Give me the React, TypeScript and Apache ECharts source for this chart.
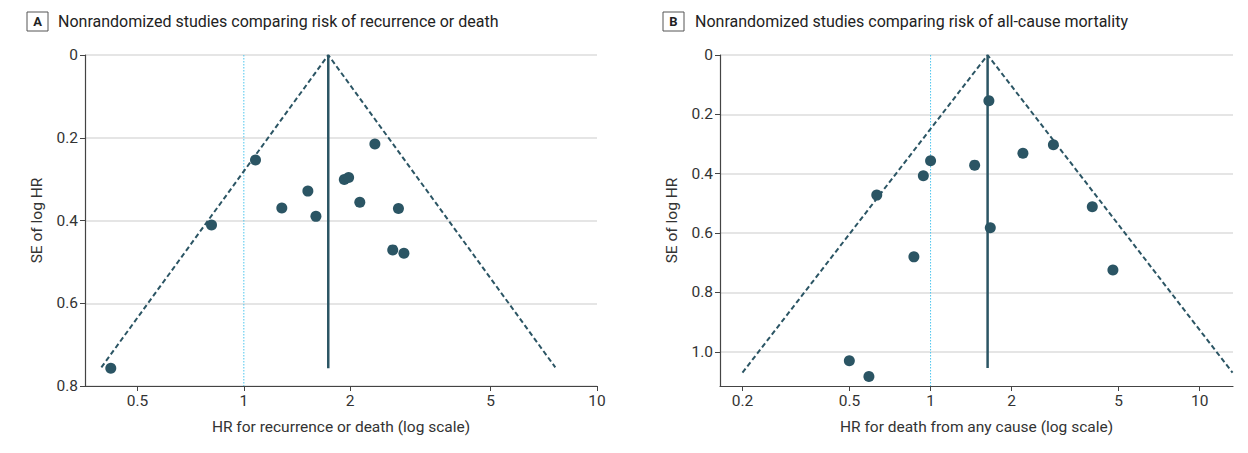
import React, { useEffect, useRef } from "react";
import * as echarts from "echarts";

// Panel A: recurrence or death
const hrA = [1.079, 0.81, 0.42, 1.281, 1.518, 1.6, 2.35, 1.925, 1.98, 2.13, 2.74, 2.64, 2.84];
const seA = [0.254, 0.411, 0.757, 0.37, 0.329, 0.39, 0.215, 0.301, 0.296, 0.356, 0.371, 0.471, 0.479];
const funnelA = [[0.395, 0.755], [1.734, 0], [7.62, 0.755]];
const pooledA = [[1.734, 0], [1.734, 0.757]];

// Panel B: all-cause mortality
const hrB = [0.631, 1.0, 0.94, 0.867, 0.499, 0.59, 1.647, 1.458, 2.204, 2.86, 1.667, 3.99, 4.76];
const seB = [0.472, 0.356, 0.407, 0.68, 1.03, 1.083, 0.154, 0.371, 0.331, 0.302, 0.582, 0.511, 0.724];
const funnelB = [[0.2, 1.07], [1.629, 0], [13.25, 1.07]];
const pooledB = [[1.629, 0], [1.629, 1.054]];

const xTicksA = [0.5, 1, 2, 5, 10];
const xTicksB = [0.2, 0.5, 1, 2, 5, 10];
const yTicksA = [0, 0.2, 0.4, 0.6, 0.8];
const yTicksB = [0, 0.2, 0.4, 0.6, 0.8, 1.0];

const titleA = "Nonrandomized studies comparing risk of recurrence or death";
const titleB = "Nonrandomized studies comparing risk of all-cause mortality";
const xNameA = "HR for recurrence or death (log scale)";
const xNameB = "HR for death from any cause (log scale)";
const yName = "SE of log HR";

const FONT = "Roboto";
const DARK = "#2b5564";
const TEXT = "#333333";
const FS = 15.5;

const lg = (v: number) => Math.log10(v);
const fmtHR = (v: number) => String(parseFloat(Math.pow(10, v).toPrecision(3)));
const fmtSE = (v: number) => (Math.abs(v) < 1e-9 ? "0" : v.toFixed(1));

function xAxis(gridIndex: number, min: number, max: number, ticks: number[], name: string) {
  const cv = ticks.map(lg);
  return {
    type: "value",
    gridIndex,
    min: lg(min),
    max: lg(max),
    name,
    nameLocation: "middle",
    nameGap: 33,
    nameTextStyle: { fontFamily: FONT, fontSize: FS, color: TEXT },
    axisLine: { onZero: false, lineStyle: { color: "#444", width: 1.2 } },
    axisTick: { show: true, customValues: cv, length: 5, lineStyle: { color: "#444" } },
    axisLabel: {
      customValues: cv,
      formatter: (v: number) => fmtHR(v),
      fontFamily: FONT,
      fontSize: FS,
      color: TEXT,
      margin: 7,
    },
    splitLine: { show: false },
  };
}

function yAxis(gridIndex: number, max: number, ticks: number[]) {
  return {
    type: "value",
    gridIndex,
    inverse: true,
    min: 0,
    max,
    interval: 0.2,
    name: yName,
    nameLocation: "middle",
    nameGap: 40,
    nameTextStyle: { fontFamily: FONT, fontSize: FS, color: TEXT },
    axisLine: { show: true, onZero: false, lineStyle: { color: "#444", width: 1.2 } },
    axisTick: { show: true, customValues: ticks, length: 5, lineStyle: { color: "#444" } },
    axisLabel: {
      customValues: ticks,
      formatter: (v: number) => fmtSE(v),
      fontFamily: FONT,
      fontSize: FS,
      color: TEXT,
      margin: 7,
    },
    splitLine: { show: true, lineStyle: { color: "#dddddd", width: 1.5 } },
  };
}

function panelSeries(
  idx: number,
  hr: number[],
  se: number[],
  funnel: number[][],
  pooled: number[][],
  yMax: number
) {
  return [
    {
      type: "line",
      xAxisIndex: idx,
      yAxisIndex: idx,
      data: [[lg(1), 0], [lg(1), yMax]],
      symbol: "none",
      lineStyle: { color: "#4cc5ee", width: 1, type: [1.5, 1.5] },
      z: 1,
      silent: true,
    },
    {
      type: "line",
      xAxisIndex: idx,
      yAxisIndex: idx,
      data: funnel.map((p) => [lg(p[0]), p[1]]),
      symbol: "none",
      lineStyle: { color: DARK, width: 2, type: [5, 3] },
      z: 2,
      silent: true,
    },
    {
      type: "line",
      xAxisIndex: idx,
      yAxisIndex: idx,
      data: pooled.map((p) => [lg(p[0]), p[1]]),
      symbol: "none",
      lineStyle: { color: DARK, width: 2.5 },
      z: 3,
      silent: true,
    },
    {
      type: "scatter",
      xAxisIndex: idx,
      yAxisIndex: idx,
      data: hr.map((h, i) => [lg(h), se[i]]),
      symbolSize: 11,
      itemStyle: { color: DARK, opacity: 1 },
      z: 4,
    },
  ];
}

function header(letter: string, boxX: number, text: string, textX: number) {
  return [
    {
      type: "rect",
      shape: { x: boxX, y: 12, width: 21, height: 19 },
      style: { fill: "#fff", stroke: "#555", lineWidth: 1 },
    },
    {
      type: "text",
      x: boxX + 10.5,
      y: 21.5,
      style: {
        text: letter,
        fontFamily: FONT,
        fontSize: 13,
        fontWeight: "bold",
        fill: "#222",
        align: "center",
        verticalAlign: "middle",
      },
    },
    {
      type: "text",
      x: textX,
      y: 21,
      style: {
        text,
        fontFamily: FONT,
        fontSize: 16,
        fill: "#222",
        align: "left",
        verticalAlign: "middle",
      },
    },
  ];
}

export default function App() {
  const ref = useRef<HTMLDivElement>(null);
  useEffect(() => {
    if (!ref.current) return;
    const chart = echarts.init(ref.current, undefined, { renderer: "svg" });
    const yMaxA = 0.8;
    const yMaxB = 1.115;
    chart.setOption({
      animation: false,
      backgroundColor: "#ffffff",
      grid: [
        { left: 85, top: 55, width: 512, height: 331 },
        { left: 720, top: 55, width: 513, height: 331 },
      ],
      xAxis: [
        xAxis(0, 0.355, 10, xTicksA, xNameA),
        xAxis(1, 0.165, 13.3, xTicksB, xNameB),
      ],
      yAxis: [yAxis(0, yMaxA, yTicksA), yAxis(1, yMaxB, yTicksB)],
      series: [
        ...panelSeries(0, hrA, seA, funnelA, pooledA, yMaxA),
        ...panelSeries(1, hrB, seB, funnelB, pooledB, yMaxB),
      ],
      graphic: [
        ...header("A", 27, titleA, 58),
        ...header("B", 663, titleB, 695),
      ],
    });
    return () => chart.dispose();
  }, []);
  return (
    <div
      ref={ref}
      style={{ position: "fixed", left: 0, top: 0, width: 1248, height: 453, background: "#fff" }}
    />
  );
}
